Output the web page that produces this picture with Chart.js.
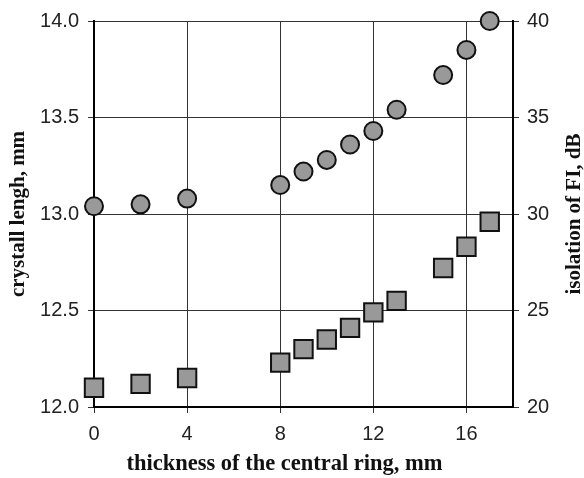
<!DOCTYPE html>
<html>
<head>
<meta charset="utf-8">
<script src="https://cdn.jsdelivr.net/npm/chart.js@4.4.1/dist/chart.umd.min.js"></script>
<style>
  html, body { margin: 0; padding: 0; background: #fff; }
  #wrap { width: 584px; height: 478px; }
</style>
</head>
<body>
<div id="wrap"><canvas id="c"></canvas></div>
<script>
// thickness of central ring, mm
const thickness = [0, 2, 4, 8, 9, 10, 11, 12, 13, 15, 16, 17];
// crystal length, mm (circles, left axis)
const crystalLength = [13.04, 13.05, 13.08, 13.15, 13.22, 13.28, 13.36, 13.43, 13.54, 13.72, 13.85, 14.0];
// isolation of FI, dB (squares, right axis)
const isolation = [21.0, 21.2, 21.5, 22.3, 23.0, 23.5, 24.1, 24.9, 25.5, 27.2, 28.3, 29.6];

const xTicks = [0, 4, 8, 12, 16];

const tickFont  = { family: "'Liberation Sans', Arial, sans-serif", size: 20 };
const serif = "'Liberation Serif', 'Times New Roman', serif";
const yTitleFont = { family: serif, size: 21, weight: 'bold' };
const GRID = '#333';
const FILL = '#999';

const pts = ys => thickness.map((x, i) => ({ x, y: ys[i] }));

// bottom title sits centred on the page, right title reads bottom-to-top
const extraTitles = {
  id: 'extraTitles',
  afterDraw(chart) {
    const { ctx, chartArea } = chart;
    ctx.save();
    ctx.fillStyle = '#111';
    ctx.textAlign = 'center';
    ctx.textBaseline = 'middle';
    ctx.font = 'bold 22.5px ' + serif;
    ctx.fillText('thickness of the central ring, mm', 284.5, 464);
    ctx.translate(575, (chartArea.top + chartArea.bottom) / 2);
    ctx.rotate(-Math.PI / 2);
    ctx.font = 'bold 21px ' + serif;
    ctx.fillText('isolation of FI, dB', 0, 0);
    ctx.restore();
  }
};

new Chart(document.getElementById('c'), {
  type: 'scatter',
  data: {
    datasets: [
      { label: 'crystall lengh', data: pts(crystalLength), yAxisID: 'y',
        pointStyle: 'circle', pointRadius: 9, backgroundColor: FILL, borderColor: '#111', borderWidth: 2, clip: false },
      { label: 'isolation', data: pts(isolation), yAxisID: 'y2',
        pointStyle: 'rect', pointRadius: 13, backgroundColor: FILL, borderColor: '#111', borderWidth: 2, clip: false },
    ]
  },
  plugins: [extraTitles],
  options: {
    responsive: true, maintainAspectRatio: false, animation: false,
    layout: { padding: { top: 19, left: 0, right: 0, bottom: 0 } },
    plugins: { legend: { display: false }, tooltip: { enabled: false } },
    scales: {
      x: {
        type: 'linear', position: 'bottom', min: 0, max: 18,
        afterBuildTicks: s => { s.ticks = xTicks.map(v => ({ value: v })); },
        afterFit: s => { s.height = 71; },
        ticks: { font: tickFont, color: '#222', padding: 9, maxRotation: 0 },
        grid: { color: GRID, lineWidth: 1, tickLength: 6 },
        border: { color: '#000', width: 2 },
        title: { display: false }
      },
      y: {
        position: 'left', min: 12, max: 14,
        afterFit: s => { s.width = 94; },
        ticks: { stepSize: 0.5, font: tickFont, color: '#222', padding: 9, callback: v => v.toFixed(1) },
        grid: { color: GRID, lineWidth: 1, tickLength: 6 },
        border: { color: '#000', width: 2 },
        title: { display: true, text: 'crystall lengh, mm', font: yTitleFont, color: '#111', padding: { top: 6, bottom: 0 } }
      },
      y2: {
        position: 'right', min: 20, max: 40,
        afterFit: s => { s.width = 71; },
        ticks: { stepSize: 5, font: tickFont, color: '#222', padding: 8 },
        grid: { drawOnChartArea: false, color: GRID, lineWidth: 1, tickLength: 6 },
        border: { color: '#000', width: 2 },
        title: { display: false }
      }
    }
  }
});
</script>
</body>
</html>
